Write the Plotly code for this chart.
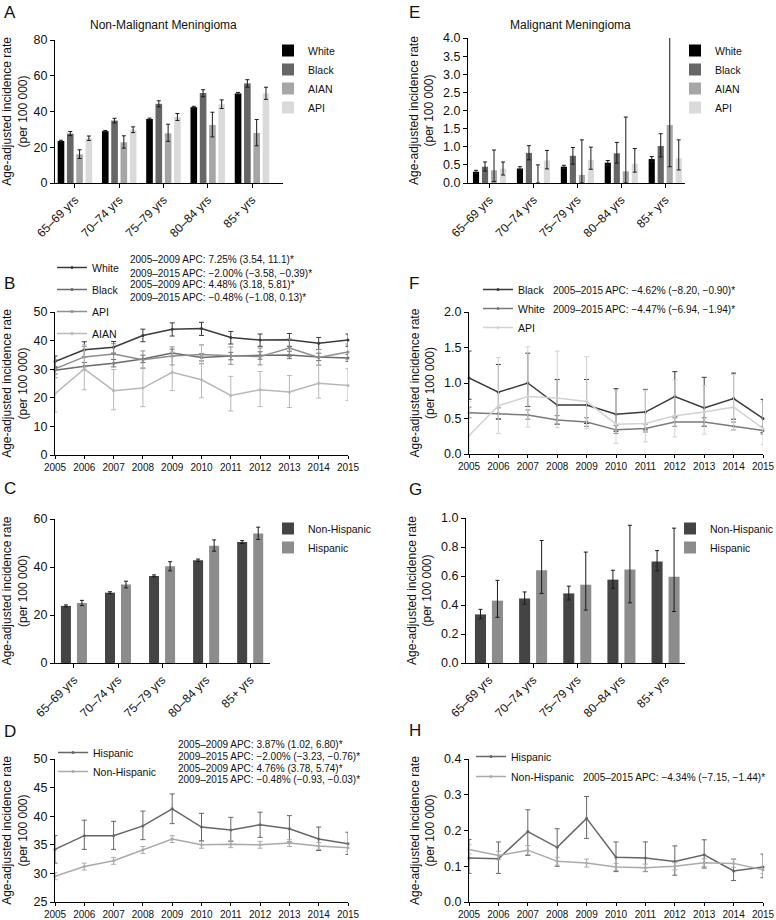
import plotly.graph_objects as go

W, H = 776, 920
FONT = "Liberation Sans, Arial, Helvetica, sans-serif"

# ---------------- data ----------------
ages = ["65–69 yrs", "70–74 yrs", "75–79 yrs", "80–84 yrs", "85+ yrs"]
years = [2005, 2006, 2007, 2008, 2009, 2010, 2011, 2012, 2013, 2014, 2015]

# A: Non-malignant, by race and age (rate, lower CI, upper CI)
A_white = [23.5, 29.0, 35.8, 42.4, 50.1]
A_white_lo = [23.1, 28.6, 35.3, 41.9, 49.5]
A_white_hi = [23.9, 29.4, 36.3, 42.9, 50.7]
A_black = [27.6, 34.9, 44.3, 50.3, 55.7]
A_black_lo = [26.5, 33.6, 42.6, 48.3, 53.6]
A_black_hi = [28.8, 36.2, 46.0, 52.2, 57.8]
A_aian = [16.0, 22.8, 27.8, 32.5, 28.0]
A_aian_lo = [13.7, 19.5, 23.3, 25.8, 20.8]
A_aian_hi = [18.6, 26.4, 32.9, 39.6, 35.5]
A_api = [25.0, 29.8, 36.9, 44.0, 50.1]
A_api_lo = [23.8, 28.2, 35.0, 41.7, 46.8]
A_api_hi = [26.3, 31.4, 38.9, 46.5, 53.6]

# E: Malignant, by race and age
E_white = [0.31, 0.40, 0.45, 0.56, 0.66]
E_white_lo = [0.27, 0.36, 0.40, 0.50, 0.59]
E_white_hi = [0.35, 0.45, 0.49, 0.62, 0.73]
E_black = [0.45, 0.83, 0.75, 0.82, 1.02]
E_black_lo = [0.33, 0.64, 0.52, 0.55, 0.72]
E_black_hi = [0.58, 1.03, 0.98, 1.12, 1.36]
E_aian = [0.35, 0.0, 0.22, 0.32, 1.60]
E_aian_lo = [0.04, 0.0, 0.0, 0.0, 0.45]
E_aian_hi = [0.91, 0.50, 1.19, 1.82, 4.60]
E_api = [0.40, 0.62, 0.64, 0.53, 0.68]
E_api_lo = [0.22, 0.39, 0.38, 0.30, 0.36]
E_api_hi = [0.58, 0.90, 0.99, 0.95, 1.19]

# B: Non-malignant trends by race
B_white = [32.7, 36.8, 37.7, 41.8, 44.0, 44.2, 41.1, 40.2, 40.3, 39.1, 40.2]
B_white_lo = [30.6, 34.3, 35.6, 39.6, 41.6, 41.8, 38.8, 38.0, 38.0, 36.9, 38.0]
B_white_hi = [34.6, 39.6, 39.7, 44.0, 46.2, 46.4, 43.2, 42.3, 42.5, 41.1, 42.3]
B_black = [29.6, 31.0, 32.1, 33.6, 35.7, 34.1, 34.6, 34.8, 35.0, 34.3, 33.9]
B_black_lo = [28.3, 29.7, 30.8, 32.3, 34.4, 32.9, 33.3, 33.5, 33.7, 33.0, 32.7]
B_black_hi = [30.9, 32.3, 33.4, 34.9, 37.0, 35.4, 35.9, 36.1, 36.3, 35.6, 35.2]
B_api = [30.1, 34.3, 35.3, 33.3, 34.6, 35.1, 34.7, 34.4, 37.4, 34.1, 36.0]
B_api_lo = [27.0, 30.9, 31.9, 30.3, 31.5, 31.9, 31.7, 31.5, 34.4, 31.4, 33.3]
B_api_hi = [33.3, 38.0, 38.9, 36.4, 37.8, 38.5, 37.8, 37.4, 40.6, 36.9, 38.8]
B_aian = [21.4, 30.1, 22.5, 23.4, 28.9, 26.3, 20.8, 22.8, 22.0, 25.1, 24.3]
B_aian_lo = [15.0, 22.8, 15.8, 16.9, 22.5, 20.0, 15.4, 16.9, 16.6, 19.9, 19.1]
B_aian_hi = [28.5, 38.5, 29.9, 30.6, 36.0, 38.5, 27.5, 29.2, 27.8, 31.5, 30.2]

# F: Malignant trends by race
F_black = [1.07, 0.87, 1.00, 0.69, 0.69, 0.56, 0.59, 0.81, 0.65, 0.78, 0.50]
F_black_lo = [0.77, 0.49, 0.67, 0.42, 0.43, 0.32, 0.34, 0.53, 0.39, 0.49, 0.30]
F_black_hi = [1.45, 1.26, 1.42, 1.05, 1.05, 0.92, 0.91, 1.16, 1.08, 1.14, 0.77]
F_white = [0.58, 0.57, 0.55, 0.48, 0.45, 0.34, 0.36, 0.45, 0.45, 0.39, 0.33]
F_white_lo = [0.51, 0.50, 0.49, 0.42, 0.39, 0.29, 0.31, 0.39, 0.39, 0.34, 0.28]
F_white_hi = [0.66, 0.65, 0.62, 0.54, 0.51, 0.40, 0.42, 0.51, 0.51, 0.45, 0.39]
F_api = [0.26, 0.68, 0.81, 0.79, 0.74, 0.42, 0.43, 0.54, 0.59, 0.66, 0.36]
F_api_lo = [0.04, 0.29, 0.38, 0.37, 0.36, 0.15, 0.17, 0.24, 0.28, 0.34, 0.13]
F_api_hi = [0.74, 1.36, 1.51, 1.45, 1.37, 0.89, 0.90, 1.04, 0.96, 1.12, 0.73]

# C: Non-malignant by ethnicity and age
C_nonhisp = [23.8, 29.3, 36.3, 42.8, 50.4]
C_nonhisp_lo = [23.4, 28.9, 35.9, 42.3, 49.8]
C_nonhisp_hi = [24.2, 29.7, 36.7, 43.3, 51.0]
C_hisp = [25.0, 32.7, 40.3, 48.9, 54.0]
C_hisp_lo = [23.9, 31.3, 38.4, 46.6, 51.5]
C_hisp_hi = [26.1, 34.1, 42.2, 51.3, 56.6]

# G: Malignant by ethnicity and age
G_nonhisp = [0.335, 0.445, 0.48, 0.575, 0.70]
G_nonhisp_lo = [0.305, 0.405, 0.435, 0.515, 0.635]
G_nonhisp_hi = [0.37, 0.49, 0.53, 0.64, 0.775]
G_hisp = [0.43, 0.64, 0.54, 0.645, 0.595]
G_hisp_lo = [0.315, 0.48, 0.365, 0.415, 0.355]
G_hisp_hi = [0.57, 0.845, 0.765, 0.95, 0.93]

# D: Non-malignant trends by ethnicity
D_hisp = [34.2, 36.6, 36.6, 38.3, 41.3, 38.1, 37.6, 38.5, 37.8, 36.0, 35.2]
D_hisp_lo = [31.8, 34.2, 34.2, 35.9, 38.7, 35.7, 35.6, 36.3, 35.5, 34.0, 33.3]
D_hisp_hi = [36.6, 39.3, 39.1, 40.9, 43.9, 40.5, 39.8, 40.7, 40.1, 38.1, 37.2]
D_nonhisp = [29.5, 31.2, 32.2, 34.1, 36.0, 35.0, 35.1, 35.0, 35.3, 34.8, 34.5]
D_nonhisp_lo = [28.9, 30.6, 31.6, 33.5, 35.4, 34.4, 34.5, 34.4, 34.7, 34.2, 33.9]
D_nonhisp_hi = [30.1, 31.8, 32.8, 34.7, 36.6, 35.6, 35.7, 35.6, 35.9, 35.4, 35.1]

# H: Malignant trends by ethnicity
H_hisp = [0.123, 0.121, 0.197, 0.153, 0.234, 0.125, 0.123, 0.113, 0.132, 0.087, 0.098]
H_hisp_lo = [0.08, 0.08, 0.13, 0.10, 0.178, 0.085, 0.085, 0.075, 0.095, 0.06, 0.068]
H_hisp_hi = [0.175, 0.168, 0.258, 0.205, 0.295, 0.168, 0.168, 0.157, 0.174, 0.12, 0.134]
H_nonhisp = [0.147, 0.130, 0.145, 0.114, 0.109, 0.098, 0.096, 0.100, 0.110, 0.108, 0.090]
H_nonhisp_lo = [0.134, 0.118, 0.132, 0.103, 0.098, 0.088, 0.086, 0.090, 0.099, 0.097, 0.080]
H_nonhisp_hi = [0.160, 0.142, 0.158, 0.125, 0.120, 0.108, 0.106, 0.110, 0.121, 0.119, 0.100]

# ---------------- helpers ----------------
def fx(px):
    return px / W


def fy(py):
    return 1 - py / H


fig = go.Figure()


def err(vals, lo, hi, color, cap):
    return dict(type="data", symmetric=False,
                array=[h - v for v, h in zip(vals, hi)],
                arrayminus=[v - l for v, l in zip(vals, lo)],
                color=color, thickness=1, width=cap)


def add_bars(ax, series, names, colors, width, step, legend):
    n = len(series)
    for i, (vals, lo, hi) in enumerate(series):
        off = -n * step / 2 + i * step + (step - width) / 2
        fig.add_trace(go.Bar(
            x=ages, y=vals, width=width, offset=off, name=names[i],
            marker=dict(color=colors[i], line=dict(width=0)),
            error_y=err(vals, lo, hi, "#1a1a1a", 2),
            xaxis="x" + ax, yaxis="y" + ax, legend=legend, showlegend=True))


def add_lines(ax, series, names, colors, legend):
    for i, (vals, lo, hi) in enumerate(series):
        fig.add_trace(go.Scatter(
            x=years, y=vals, mode="lines+markers", name=names[i],
            line=dict(color=colors[i], width=1.5),
            marker=dict(color=colors[i], size=3),
            error_y=err(vals, lo, hi, colors[i], 2.5),
            cliponaxis=False, legendgroup=legend + names[i],
            xaxis="x" + ax, yaxis="y" + ax, legend=legend))


race_cols = ["#000000", "#666666", "#a6a6a6", "#dadada"]
eth_cols = ["#444444", "#8c8c8c"]

add_bars("", [(A_white, A_white_lo, A_white_hi), (A_black, A_black_lo, A_black_hi),
              (A_aian, A_aian_lo, A_aian_hi), (A_api, A_api_lo, A_api_hi)],
         ["White", "Black", "AIAN", "API"], race_cols, 0.15, 0.21, "legend")
add_lines("2", [(B_white, B_white_lo, B_white_hi), (B_black, B_black_lo, B_black_hi),
                (B_api, B_api_lo, B_api_hi), (B_aian, B_aian_lo, B_aian_hi)],
          ["White", "Black", "API", "AIAN"], ["#3a3a3a", "#6a6a6a", "#8e8e8e", "#b8b8b8"], "legend2")
add_bars("3", [(C_nonhisp, C_nonhisp_lo, C_nonhisp_hi), (C_hisp, C_hisp_lo, C_hisp_hi)],
         ["Non-Hispanic", "Hispanic"], eth_cols, 0.227, 0.364, "legend3")
add_lines("4", [(D_hisp, D_hisp_lo, D_hisp_hi), (D_nonhisp, D_nonhisp_lo, D_nonhisp_hi)],
          ["Hispanic", "Non-Hispanic"], ["#666666", "#aaaaaa"], "legend4")
add_bars("5", [(E_white, E_white_lo, E_white_hi), (E_black, E_black_lo, E_black_hi),
               (E_aian, E_aian_lo, E_aian_hi), (E_api, E_api_lo, E_api_hi)],
         ["White", "Black", "AIAN", "API"], race_cols, 0.14, 0.205, "legend5")
add_lines("6", [(F_black, F_black_lo, F_black_hi), (F_white, F_white_lo, F_white_hi),
                (F_api, F_api_lo, F_api_hi)],
          ["Black", "White", "API"], ["#3a3a3a", "#7a7a7a", "#d2d2d2"], "legend6")
add_bars("7", [(G_nonhisp, G_nonhisp_lo, G_nonhisp_hi), (G_hisp, G_hisp_lo, G_hisp_hi)],
         ["Non-Hispanic", "Hispanic"], eth_cols, 0.25, 0.385, "legend7")
add_lines("8", [(H_hisp, H_hisp_lo, H_hisp_hi), (H_nonhisp, H_nonhisp_lo, H_nonhisp_hi)],
          ["Hispanic", "Non-Hispanic"], ["#666666", "#aaaaaa"], "legend8")

# ---------------- axes ----------------
YTITLE = "Age-adjusted incidence rate<br>(per 100 000)"
base = dict(showline=True, linecolor="black", linewidth=1, ticks="outside", ticklen=4,
            tickcolor="black", tickwidth=1, showgrid=False, zeroline=False,
            fixedrange=True, automargin=False)

# panel: (suffix, x px range, y px range(top,bottom), xkind, xrange, yrange, dtick)
panels = {
    "": ((55, 283), (40, 183), "cat", [-0.45, 4.7], [0, 80], 20),
    "2": ((55, 348), (312, 455), "year", [2005, 2015], [0, 50], 10),
    "3": ((55, 270), (519, 663), "cat", [-0.43, 4.45], [0, 60], 20),
    "4": ((55, 348), (759, 902), "year", [2005, 2015], [25, 50], 5),
    "5": ((468, 685), (38, 183), "cat", [-0.49, 4.45], [0, 4], 0.5),
    "6": ((469, 763), (312, 454), "year", [2005, 2015], [0, 2], 0.5),
    "7": ((466, 685), (518, 663), "cat", [-0.52, 4.44], [0, 1], 0.2),
    "8": ((469, 763), (759, 902), "year", [2005, 2015], [0, 0.4], 0.1),
}

layout_axes = {}
for s, (xp, yp, kind, xr, yr, dt) in panels.items():
    xa = dict(base, domain=[fx(xp[0]), fx(xp[1])], range=xr, anchor="y" + s)
    if kind == "cat":
        xa.update(type="category", tickangle=-45, tickfont=dict(size=12, family=FONT, color="#111"))
    else:
        xa.update(tickmode="array", tickvals=years, ticktext=[str(y) for y in years],
                  ticklen=3, tickfont=dict(size=10, family=FONT, color="#111"))
    ya = dict(base, domain=[fy(yp[1]), fy(yp[0])], range=yr, dtick=dt, anchor="x" + s,
              tickfont=dict(size=12.5, family=FONT, color="#111"),
              title=dict(text=YTITLE, font=dict(size=12, family=FONT, color="#111"), standoff=6))
    if dt < 1:
        ya["tickformat"] = ".1f"
    layout_axes["xaxis" + s] = xa
    layout_axes["yaxis" + s] = ya

fig.update_layout(template="none")
fig.update_layout(**layout_axes)

# ---------------- legends ----------------
def leg(xpx, ypx, gap=0, order="normal"):
    return dict(x=fx(xpx), y=fy(ypx), xanchor="left", yanchor="top",
                font=dict(size=10.5, family=FONT, color="#111"),
                bgcolor="rgba(0,0,0,0)", borderwidth=0, tracegroupgap=gap,
                traceorder=order, itemclick=False, itemdoubleclick=False)


fig.update_layout(
    legend=leg(268, 36),
    legend2=leg(52, 253, 3, "grouped"),
    legend3=leg(268, 514),
    legend4=leg(53, 738),
    legend5=leg(675, 36),
    legend6=leg(478, 275),
    legend7=leg(670, 514),
    legend8=leg(471, 742, 1, "grouped"),
    barmode="overlay",
)

# ---------------- annotations ----------------
ann = []
for letter, xpx, ypx in [("A", 2, 12), ("B", 2, 283), ("C", 2, 488), ("D", 2, 731),
                         ("E", 407, 12), ("F", 407, 283), ("G", 407, 489), ("H", 407, 730)]:
    ann.append(dict(text=letter, x=fx(xpx), y=fy(ypx), xref="paper", yref="paper",
                    xanchor="left", yanchor="middle", showarrow=False,
                    font=dict(size=17, family=FONT, color="#111")))
for t, xpx, ypx in [("Non-Malignant Meningioma", 163, 25), ("Malignant Meningioma", 570, 25)]:
    ann.append(dict(text=t, x=fx(xpx), y=fy(ypx), xref="paper", yref="paper",
                    xanchor="center", yanchor="middle", showarrow=False,
                    font=dict(size=12, family=FONT, color="#111")))

apc = [
    ("2005–2009 APC: 7.25% (3.54, 11.1)*", 128, 260),
    ("2009–2015 APC: −2.00% (−3.58, −0.39)*", 128, 273),
    ("2005–2009 APC: 4.48% (3.18, 5.81)*", 128, 285),
    ("2009–2015 APC: −0.48% (−1.08, 0.13)*", 128, 297),
    ("2005–2015 APC: −4.62% (−8.20, −0.90)*", 551, 290),
    ("2009–2015 APC: −4.47% (−6.94, −1.94)*", 551, 309),
    ("2005–2009 APC: 3.87% (1.02, 6.80)*", 176, 744),
    ("2009–2015 APC: −2.00% (−3.23, −0.76)*", 176, 756),
    ("2005–2009 APC: 4.76% (3.78, 5.74)*", 176, 768),
    ("2009–2015 APC: −0.48% (−0.93, −0.03)*", 176, 779),
    ("2005–2015 APC: −4.34% (−7.15, −1.44)*", 581, 777),
]
for t, xpx, ypx in apc:
    ann.append(dict(text=t, x=fx(xpx), y=fy(ypx), xref="paper", yref="paper",
                    xanchor="left", yanchor="middle", showarrow=False,
                    font=dict(size=10, family=FONT, color="#111")))

fig.update_layout(
    annotations=ann,
    width=W, height=H,
    margin=dict(l=0, r=0, t=0, b=0, autoexpand=False),
    paper_bgcolor="white", plot_bgcolor="white",
    font=dict(family=FONT, color="#111"),
)

fig.write_html("out.html", config={"displayModeBar": False},
               post_script="document.body.style.margin='0';document.body.style.padding='0';")
